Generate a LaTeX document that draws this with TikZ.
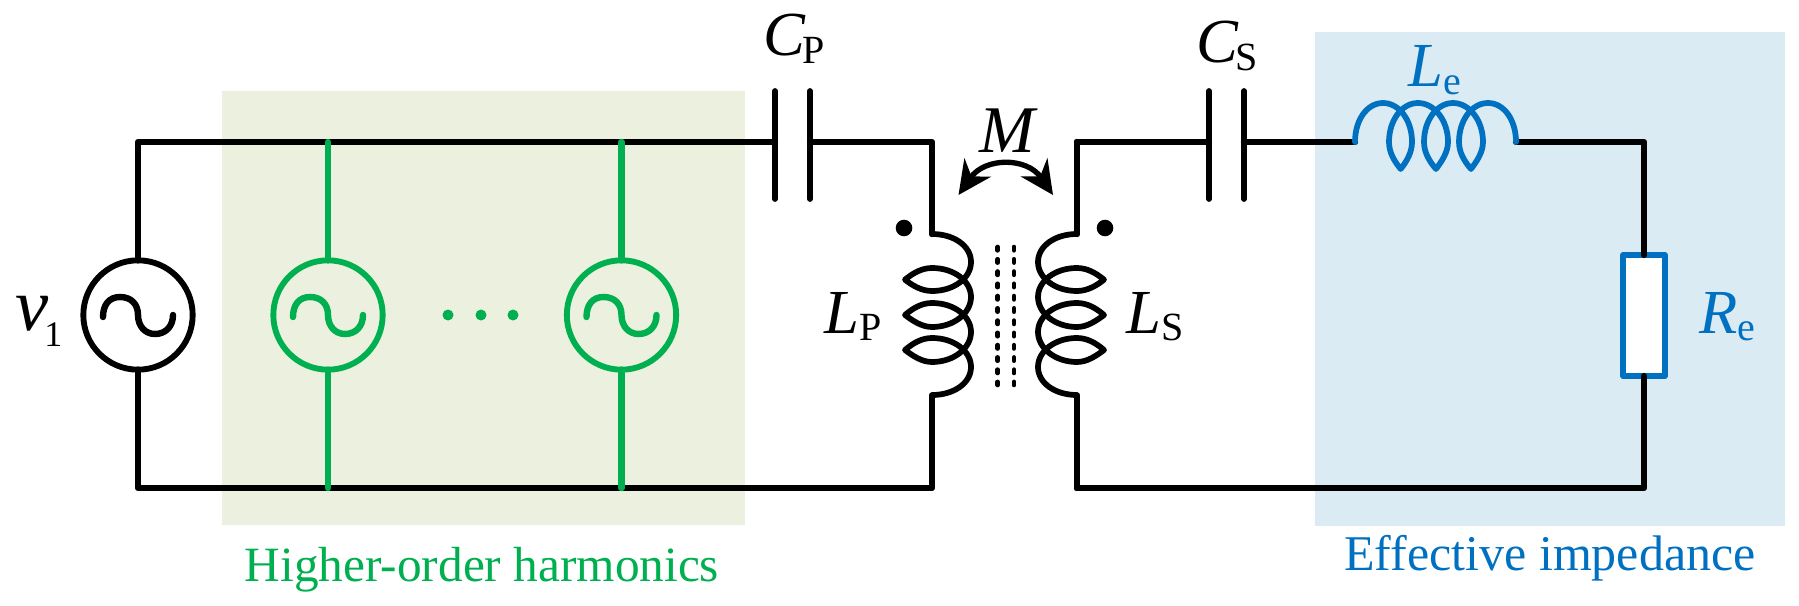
\documentclass[tikz,border=0pt]{standalone}
\usepackage{fontspec}
\setmainfont{Liberation Serif}
\usetikzlibrary{arrows.meta}
\definecolor{hgreen}{HTML}{00B050}
\definecolor{hblue}{HTML}{0070C0}
\definecolor{bggreen}{HTML}{EBF0DF}
\definecolor{bgblue}{HTML}{DBEBF3}
\newcommand{\coilshape}{(0,0) .. controls (0,22) and (12,39) .. (28,39) .. controls (44,39) and (57,22) .. (57,0) .. controls (57,-10) and (52,-19) .. (45.7,-27)
 .. controls (39,-19) and (34,-10) .. (34,0) .. controls (34,22) and (47,39) .. (63,39) .. controls (79,39) and (93,22) .. (93,0) .. controls (93,-10) and (87,-19) .. (81,-27)
 .. controls (74,-19) and (69,-10) .. (69,0) .. controls (69,22) and (82,39) .. (98,39) .. controls (114,39) and (128,22) .. (128,0) .. controls (128,-10) and (122,-19) .. (116,-27)
 .. controls (109,-19) and (104,-10) .. (104,0) .. controls (104,22) and (117,39) .. (133,39) .. controls (149,39) and (161,22) .. (161,0)}
\newcommand{\sineshape}{(-35,2) .. controls (-35,-10) and (-29,-18) .. (-18,-18) .. controls (-7,-18) and (0,-11) .. (0,0) .. controls (0,11) and (7,19) .. (17,19) .. controls (28,19) and (35,11) .. (35,0)}
\tikzset{
  x=0.75pt,y=-0.75pt,
  wire/.style={line width=4.8pt,line join=round,line cap=round},
  coil/.style={line width=4.3pt,line join=round,line cap=round},
  srcnode/.style={circle,draw,line width=4.4pt,minimum size=82pt,inner sep=0pt,outer sep=0pt},
  txt/.style={font=\fontsize{47pt}{50pt}\selectfont,anchor=base,inner sep=0pt},
  captxt/.style={anchor=base,inner sep=0pt},
  plate/.style={line width=4.3pt,line cap=round},
  coredash/.style={line width=3.5pt,line cap=round,dash pattern=on 2.5pt off 6.7pt}
}
\newcommand{\Sb}[1]{\raisebox{-5.5pt}{\fontsize{30pt}{30pt}\selectfont\textup{#1}}}
\begin{document}
\begin{tikzpicture}
\useasboundingbox (0,0) rectangle (1799,606);
\fill[bggreen] (222,91) rectangle (745,525);
\fill[bgblue] (1315,32) rectangle (1785,525.5);
% corner coordinates
\coordinate (tl) at (138,142);
\coordinate (bl) at (138,488);
\coordinate (g1t) at (328,142);
\coordinate (g1b) at (328,488);
\coordinate (g2t) at (621.5,142);
\coordinate (g2b) at (621.5,488);
\coordinate (cpl) at (775,142);
\coordinate (cpr) at (810,142);
\coordinate (ptr) at (932,142);
\coordinate (pct) at (932,234);
\coordinate (pcb) at (932,396);
\coordinate (pbr) at (932,488);
\coordinate (stl) at (1077,142);
\coordinate (sct) at (1077,234);
\coordinate (scb) at (1077,396);
\coordinate (sbl) at (1077,488);
\coordinate (csl) at (1209,142);
\coordinate (csr) at (1244,142);
\coordinate (let) at (1355,142);
\coordinate (lee) at (1516,142);
\coordinate (rtr) at (1644,142);
\coordinate (rbr) at (1644,488);
% black source
\node[srcnode] (V1) at (138,315) {};
\draw[wire,shift={(V1.center)}] \sineshape;
% resistor
\node[draw=hblue,line width=4.5pt,fill=white,line join=round,minimum width=31.3pt,minimum height=90.8pt,inner sep=0pt,outer sep=0pt] (Re) at (1644,315.5) {};
% wires
\draw[wire] (V1.north) -- (tl) -- (cpl);
\draw[wire] (V1.south) -- (bl) -- (pbr) -- (pcb);
\draw[wire] (cpr) -- (ptr) -- (pct);
\draw[wire] (stl) -- (csl);
\draw[wire] (stl) -- (sct);
\draw[wire] (sbl) -- (scb);
\draw[wire] (sbl) -- (rbr) -- (Re.south);
\draw[wire] (Re.north) -- (rtr) -- (lee);
\draw[wire] (csr) -- (let);
% green sources
\node[srcnode,draw=hgreen] (G1) at (328,315) {};
\node[srcnode,draw=hgreen] (G2) at (621.5,315) {};
\draw[wire,hgreen] (g1t) -- (G1.north) (G1.south) -- (g1b);
\draw[wire,hgreen] (g2t) -- (G2.north) (G2.south) -- (g2b);
\draw[wire,hgreen,shift={(G1.center)}] \sineshape;
\draw[wire,hgreen,shift={(G2.center)}] \sineshape;
\foreach \dx in {448,481,513}
  \fill[hgreen] (\dx,315) circle[radius=5.5];
% capacitors
\draw[plate] (775,91) -- (775,199);
\draw[plate] (810,91) -- (810,199);
\draw[plate] (1209,91) -- (1209,199);
\draw[plate] (1244,91) -- (1244,199);
% coils
\draw[coil,hblue,shift={(let)},yscale=-1] \coilshape;
\draw[coil,cm={0,-1,-1,0,(pct)}] \coilshape;
\draw[coil,cm={0,-1,1,0,(sct)}] \coilshape;
% core
\draw[coredash] (997.7,247) -- (997.7,385);
\draw[coredash] (1014,247) -- (1014,385);
% dots
\fill (904,228) circle[radius=8.3];
\fill (1105,228) circle[radius=8.3];
% mutual arrow
\draw[line width=4pt,{Stealth[length=25pt,width=24pt,inset=8pt]}-{Stealth[length=25pt,width=24pt,inset=8pt]}] (958.5,195) .. controls (985,157) and (1027,157) .. (1053,195);
% labels
\node[anchor=base west,inner sep=0pt] (lv) at (15,330) {\fontsize{56pt}{56pt}\selectfont\textit{v}\kern-3pt\raisebox{-12.7pt}{\fontsize{27pt}{27pt}\selectfont 1}};
\node[txt] (lcp) at (794,56) {\textit{C}\kern-2pt\Sb{P}};
\node[txt] (lcs) at (1227,63) {\textit{C}\kern-2pt\Sb{S}};
\node[txt,font=\fontsize{50pt}{50pt}\selectfont] (lm) at (1009,153) {\textit{M}};
\node[txt] (llp) at (853,333) {\textit{L}\Sb{P}};
\node[txt] (lls) at (1155,333) {\textit{L}\Sb{S}};
\node[txt,text=hblue] (lle) at (1435,87) {\textit{L}\Sb{e}};
\node[txt,text=hblue] (lre) at (1727,333) {\textit{R}\Sb{e}};
\node[captxt,text=hgreen,font=\fontsize{37pt}{42pt}\selectfont] (hh) at (482,581) {Higher-order harmonics};
\node[captxt,text=hblue,font=\fontsize{37.5pt}{42pt}\selectfont] (ei) at (1550,570) {Effective impedance};
\end{tikzpicture}
\end{document}
